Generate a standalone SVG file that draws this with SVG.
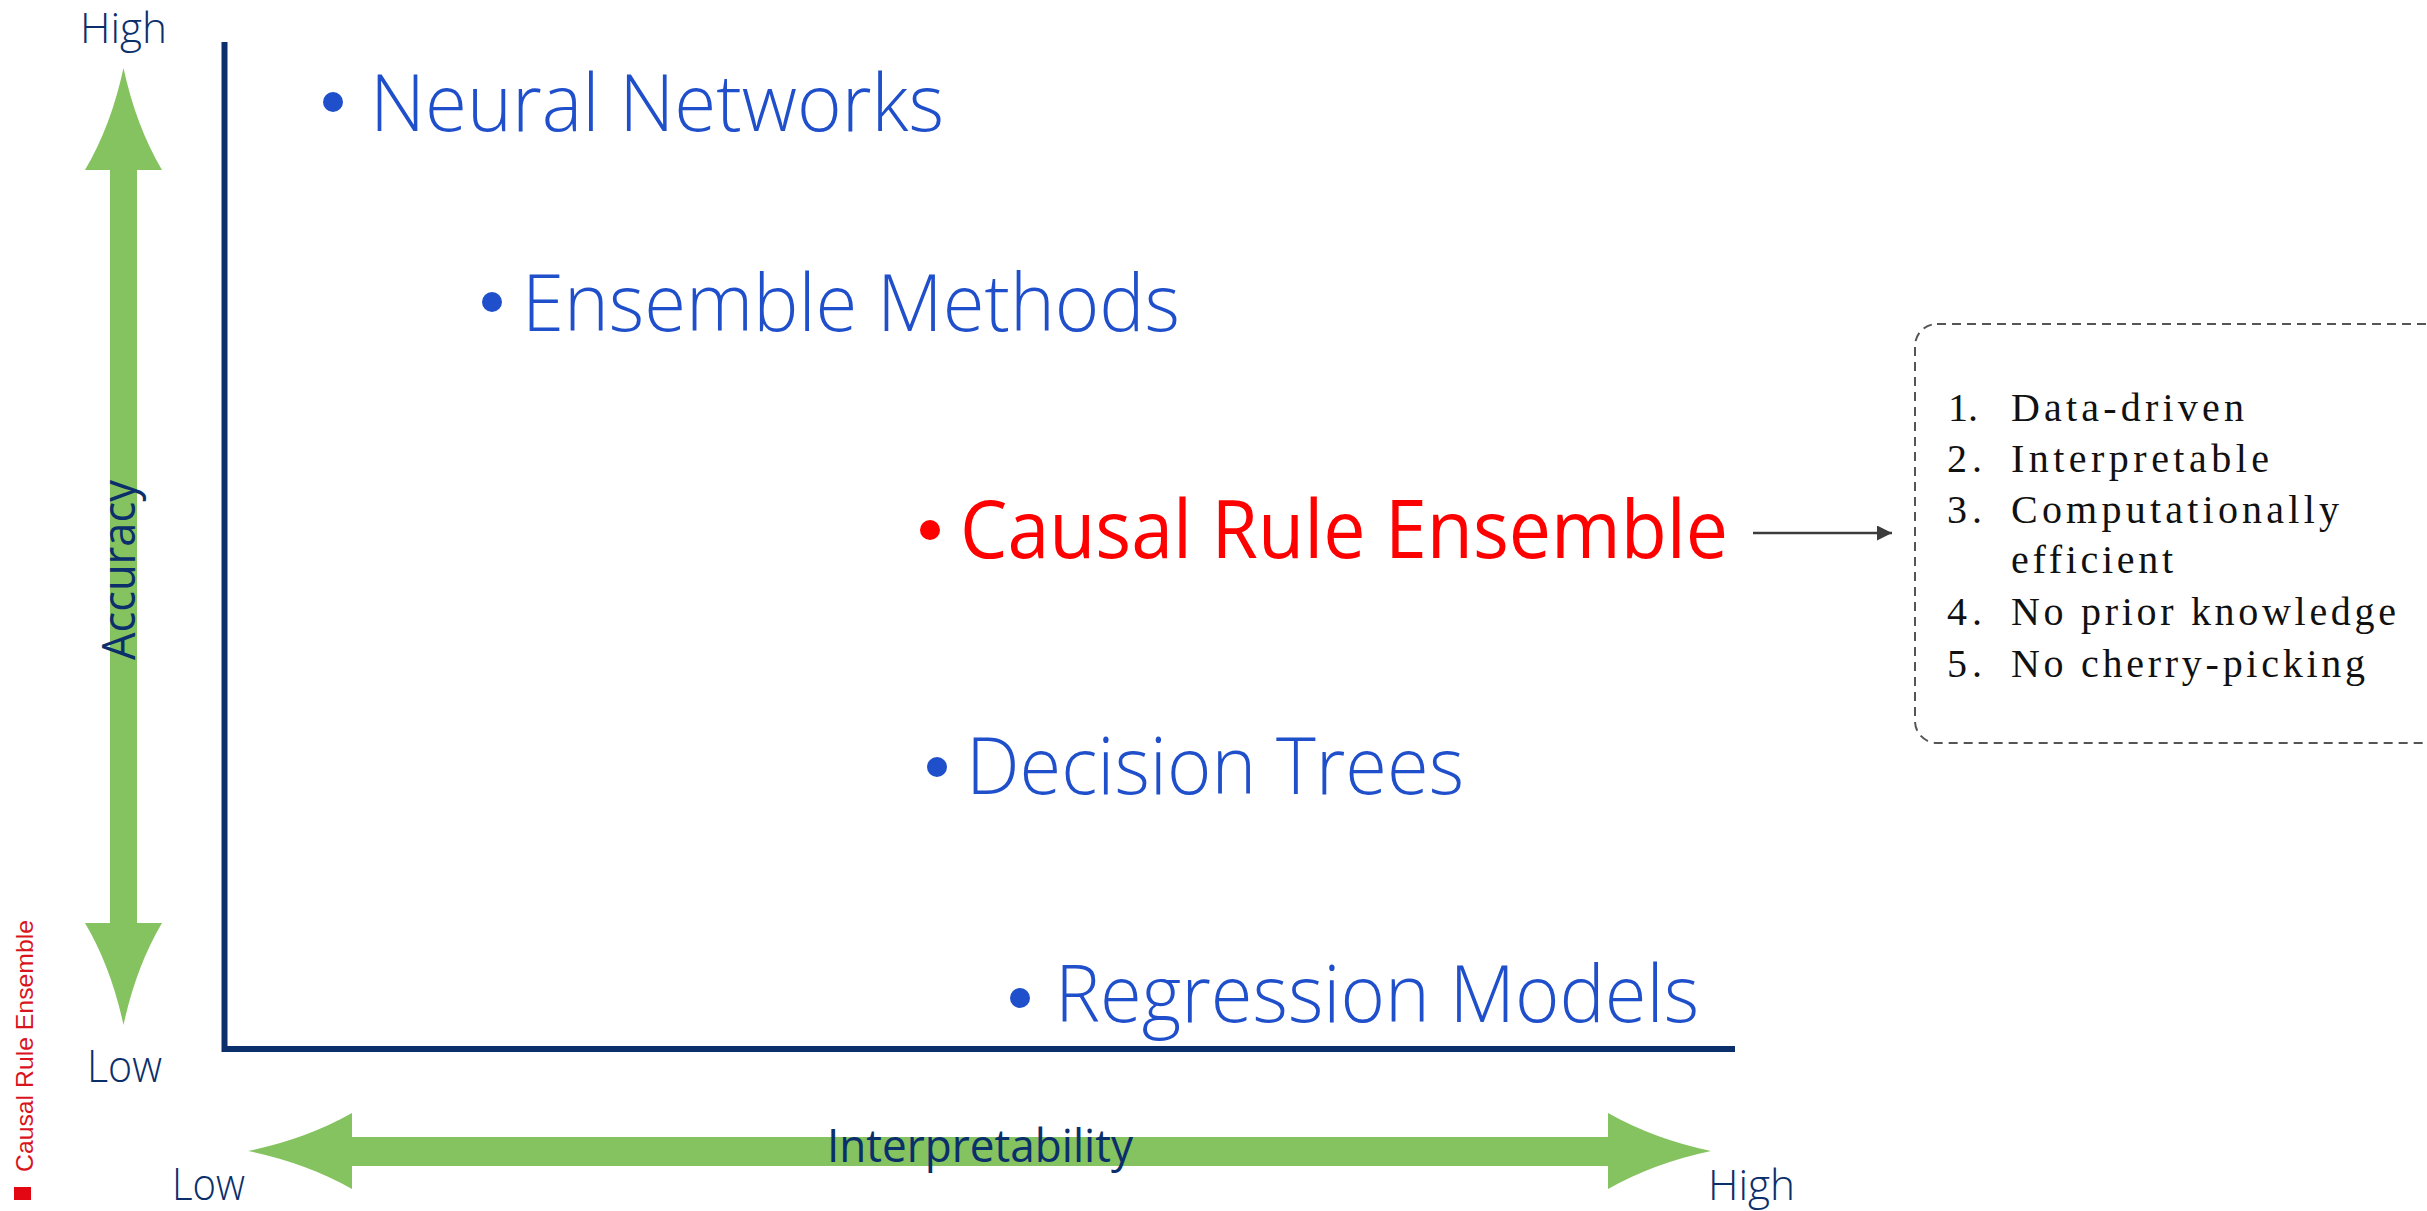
<svg xmlns="http://www.w3.org/2000/svg" width="2427" height="1211" viewBox="0 0 2427 1211">
  <style>
    .axis-label { font-family: "Open Sans", "Noto Sans", sans-serif; font-weight: 300; fill: #0b2f6b; }
    .axis-title { font-family: "Open Sans", "Noto Sans", sans-serif; font-weight: 400; fill: #0b2f6b; }
    .model { font-family: "Open Sans", "Noto Sans", sans-serif; font-weight: 300; font-size: 80px; fill: #1f4fca; }
    .model-hi { font-family: "Open Sans", "Noto Sans", sans-serif; font-weight: 400; font-size: 80px; fill: #ff0000; }
    .dot { fill: #1f4fca; }
    .dot-hi { fill: #ff0000; }
    .prop { font-family: "Liberation Serif", "Times New Roman", serif; font-size: 40px; fill: #111111; }
    .green { fill: #85c361; }
  </style>
  <defs>
    <marker id="tri" viewBox="0 0 10 10" refX="10" refY="5" markerWidth="6" markerHeight="6" markerUnits="strokeWidth" orient="auto">
      <path d="M0,0 L10,5 L0,10 Z" fill="#3c3c3c"/>
    </marker>
  </defs>
  <rect width="2427" height="1211" fill="#ffffff"/>

  <!-- accuracy double arrow -->
  <g id="accuracy-arrow">
    <path class="green" d="M123.5,68 Q136,126 162,170 L137,170 L137,923 L162,923 Q136,967 123.5,1025 Q111,967 85,923 L110,923 L110,170 L85,170 Q111,126 123.5,68 Z"/>
    <text class="axis-title" font-size="46" transform="translate(135,660) rotate(-90)" textLength="180" lengthAdjust="spacingAndGlyphs">Accuracy</text>
  </g>

  <!-- interpretability double arrow -->
  <g id="interpretability-arrow">
    <path class="green" d="M248,1151 Q306,1139 352,1113 L352,1137 L1608,1137 L1608,1113 Q1654,1139 1711,1151 Q1654,1163 1608,1189 L1608,1166 L352,1166 L352,1189 Q306,1163 248,1151 Z"/>
    <text class="axis-title" font-size="45" x="827" y="1162" textLength="306" lengthAdjust="spacingAndGlyphs">Interpretability</text>
  </g>

  <!-- axis end labels -->
  <g id="axis-labels">
    <text class="axis-label" font-size="42" x="80" y="43" textLength="87" lengthAdjust="spacingAndGlyphs">High</text>
    <text class="axis-label" font-size="44" x="87" y="1082" textLength="75" lengthAdjust="spacingAndGlyphs">Low</text>
    <text class="axis-label" font-size="44" x="172" y="1200" textLength="73" lengthAdjust="spacingAndGlyphs">Low</text>
    <text class="axis-label" font-size="42" x="1708" y="1200" textLength="87" lengthAdjust="spacingAndGlyphs">High</text>
  </g>

  <!-- chart axes -->
  <g id="axes">
    <polyline points="224.5,42 224.5,1049 1735,1049" fill="none" stroke="#0a2f6b" stroke-width="6" stroke-linejoin="miter"/>
  </g>

  <!-- model labels -->
  <g id="neural-networks">
    <circle class="dot" cx="333" cy="102" r="10"/>
    <text class="model" x="370" y="131" textLength="574" lengthAdjust="spacingAndGlyphs">Neural Networks</text>
  </g>
  <g id="ensemble-methods">
    <circle class="dot" cx="492" cy="302" r="10"/>
    <text class="model" x="522" y="331" textLength="658" lengthAdjust="spacingAndGlyphs">Ensemble Methods</text>
  </g>
  <g id="causal-rule-ensemble">
    <circle class="dot-hi" cx="930" cy="530" r="10"/>
    <text class="model-hi" x="960" y="558" textLength="768" lengthAdjust="spacingAndGlyphs">Causal Rule Ensemble</text>
  </g>
  <g id="decision-trees">
    <circle class="dot" cx="937" cy="767" r="10"/>
    <text class="model" x="966" y="794" textLength="498" lengthAdjust="spacingAndGlyphs">Decision Trees</text>
  </g>
  <g id="regression-models">
    <circle class="dot" cx="1020" cy="998" r="10"/>
    <text class="model" x="1055" y="1022" textLength="644" lengthAdjust="spacingAndGlyphs">Regression Models</text>
  </g>

  <!-- connector to properties box -->
  <g id="connectors">
    <line x1="1753" y1="533" x2="1892" y2="533" stroke="#3c3c3c" stroke-width="2.5" marker-end="url(#tri)"/>
  </g>

  <!-- properties box -->
  <g id="properties">
    <rect x="1915" y="324" width="560" height="419" rx="22" ry="22" fill="none" stroke="#555555" stroke-width="2" stroke-dasharray="9 6"/>
    <text class="prop" x="1948" y="421">1.</text>
    <text class="prop" x="2011" y="421" textLength="233" lengthAdjust="spacing">Data-driven</text>
    <text class="prop" x="1947" y="472" textLength="35" lengthAdjust="spacing">2.</text>
    <text class="prop" x="2011" y="472" textLength="258" lengthAdjust="spacing">Interpretable</text>
    <text class="prop" x="1947" y="523" textLength="35" lengthAdjust="spacing">3.</text>
    <text class="prop" x="2011" y="523" textLength="328" lengthAdjust="spacing">Computationally</text>
    <text class="prop" x="2011" y="573" textLength="162" lengthAdjust="spacing">efficient</text>
    <text class="prop" x="1947" y="625" textLength="35" lengthAdjust="spacing">4.</text>
    <text class="prop" x="2011" y="625" textLength="385" lengthAdjust="spacing">No prior knowledge</text>
    <text class="prop" x="1947" y="677" textLength="35" lengthAdjust="spacing">5.</text>
    <text class="prop" x="2011" y="677" textLength="354" lengthAdjust="spacing">No cherry-picking</text>
  </g>

  <!-- side caption -->
  <g id="side-caption">
    <rect x="14" y="1187" width="17" height="13" fill="#e30613"/>
    <text font-family="Liberation Sans, Arial, sans-serif" font-size="24" fill="#d9141e" transform="translate(33,1172) rotate(-90)" textLength="252" lengthAdjust="spacingAndGlyphs">Causal Rule Ensemble</text>
  </g>
</svg>
